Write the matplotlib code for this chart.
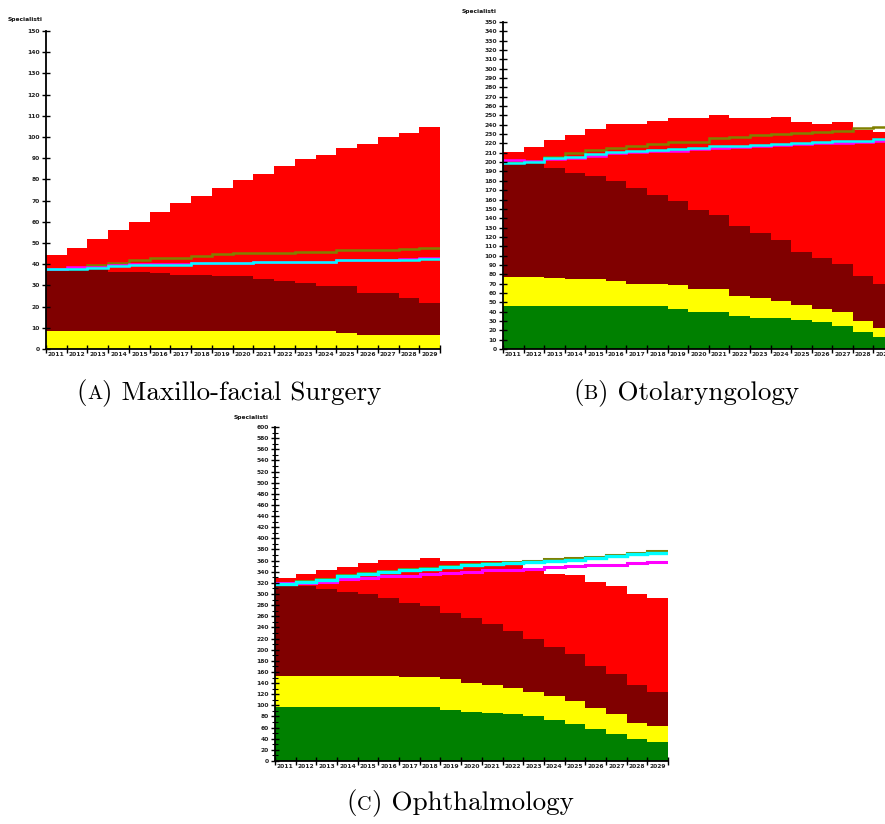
#!/usr/bin/env python3
"""Stacked step-area projections of specialists, three specialties."""

import numpy as np
import matplotlib
matplotlib.use("Agg")
import matplotlib.pyplot as plt
from matplotlib.offsetbox import TextArea, HPacker, AnnotationBbox

years = list(range(2011, 2030))

# Colours for the stacked layers and the reference lines
GREEN = "#008000"
YELLOW = "#ffff00"
MAROON = "#800000"
RED = "#ff0000"
OLIVE = "#808000"
MAGENTA = "#ff00ff"
CYAN = "#00ffff"

# --- (A) Maxillo-facial Surgery: top of each stacked layer ---
a_yellow_top = [8.3, 8.3, 8.3, 8.3, 8.3, 8.3, 8.3, 8.3, 8.3, 8.3, 8.3, 8.3, 8.3, 8.3,
                7.5, 6.8, 6.8, 6.8, 6.8]
a_maroon_top = [37.6, 37.6, 37.6, 36.5, 36.5, 35.7, 34.9, 34.9, 34.4, 34.4, 33.2, 32.2,
                31.0, 29.9, 29.9, 26.3, 26.3, 23.9, 21.9]
a_red_top = [44.2, 47.5, 52.0, 56.1, 60.1, 64.6, 68.7, 72.3, 75.8, 79.7, 82.4, 86.5,
             89.6, 91.5, 95.0, 96.9, 100.2, 102.0, 104.7]
a_olive = [37.8, 38.2, 39.6, 40.6, 41.8, 43.1, 43.1, 43.9, 44.7, 45.1, 45.1, 45.1,
           45.8, 45.8, 46.5, 46.5, 46.5, 47.2, 47.8]
a_magenta = [37.8, 38.6, 38.8, 39.5, 39.9, 39.9, 39.9, 40.6, 40.6, 40.6, 41.2, 41.2,
             41.2, 41.2, 41.9, 41.9, 42.2, 42.6, 42.8]
a_cyan = [37.6, 37.9, 38.4, 39.2, 39.6, 39.6, 39.6, 40.4, 40.4, 40.4, 41.0, 41.0,
          41.0, 41.0, 41.8, 41.8, 41.8, 41.8, 42.6]

# --- (B) Otolaryngology ---
b_green_top = [46.0, 46.0, 46.0, 46.0, 46.0, 46.0, 46.0, 46.0, 42.4, 39.9, 39.9, 35.3,
               33.5, 33.5, 31.0, 29.2, 24.9, 18.5, 12.5]
b_yellow_top = [77.3, 77.3, 75.5, 74.5, 74.5, 72.7, 69.8, 69.8, 68.1, 63.8, 63.8, 56.3,
                54.9, 51.7, 47.4, 42.4, 39.6, 30.3, 22.8]
b_maroon_top = [199.2, 199.2, 193.5, 188.9, 185.3, 179.6, 171.8, 164.3, 158.6, 149.3,
                143.3, 131.5, 123.7, 116.5, 104.1, 96.9, 90.9, 78.4, 69.5]
b_red_top = [211.0, 216.0, 223.4, 229.2, 235.2, 241.3, 241.3, 244.1, 247.3, 247.3,
             250.5, 247.7, 247.7, 248.8, 243.0, 241.3, 243.0, 234.1, 232.4]
b_olive = [200.0, 201.5, 205.6, 209.9, 213.5, 215.3, 217.7, 219.9, 222.0, 222.0, 225.6,
           227.0, 228.8, 229.9, 231.3, 232.0, 233.4, 236.3, 237.3]
b_magenta = [202.0, 201.5, 203.5, 204.2, 207.0, 209.5, 210.5, 212.0, 212.3, 213.8,
             215.5, 216.2, 217.3, 218.4, 219.1, 220.2, 220.9, 221.6, 223.0]
b_cyan = [199.2, 200.6, 204.9, 205.6, 208.5, 211.0, 212.0, 213.5, 213.8, 215.3, 217.0,
          217.7, 218.8, 219.9, 220.6, 221.7, 222.4, 223.1, 224.5]

# --- (C) Ophthalmology ---
c_green_top = [96.3, 96.3, 96.3, 96.3, 96.3, 96.3, 96.3, 96.3, 91.5, 88.5, 86.7, 83.7,
               81.3, 73.6, 66.4, 56.8, 48.4, 38.9, 33.5]
c_yellow_top = [153.1, 153.1, 153.1, 153.1, 153.1, 153.1, 151.3, 151.3, 146.5, 140.6,
                136.4, 131.6, 123.2, 116.6, 108.3, 95.7, 83.7, 68.8, 62.8]
c_maroon_top = [315.8, 314.0, 309.8, 304.4, 299.6, 293.7, 284.7, 278.7, 266.7, 256.0,
                246.4, 234.4, 218.3, 203.9, 191.4, 171.1, 156.1, 135.8, 123.8]
c_red_top = [329.0, 336.1, 343.9, 348.7, 355.9, 360.6, 360.6, 364.2, 358.9, 358.9,
             358.9, 352.9, 343.0, 336.7, 334.9, 321.8, 314.6, 299.6, 293.7]
c_olive = [319.5, 323.0, 327.5, 334.0, 337.5, 341.0, 344.5, 347.5, 350.5, 353.5, 355.5,
           358.0, 359.5, 362.0, 364.8, 366.6, 370.8, 373.8, 376.8]
c_magenta = [319.5, 320.5, 321.8, 326.6, 329.5, 331.9, 332.5, 335.5, 337.9, 339.7,
             342.7, 342.7, 345.7, 348.7, 350.5, 352.9, 352.9, 355.9, 357.7]
c_cyan = [318.8, 321.8, 326.0, 332.5, 335.5, 339.1, 342.7, 345.7, 348.7, 351.7, 353.5,
          355.9, 357.1, 358.9, 361.8, 364.8, 368.4, 371.4, 373.8]

TICK_FONT = dict(family="DejaVu Sans", size=4.3, weight="bold", color="#222222")
W, H = 885, 824


def px_axes(fig, left, top, right, bottom):
    """Add axes from pixel coordinates (origin top-left)."""
    return fig.add_axes([left / W, 1 - bottom / H, (right - left) / W, (bottom - top) / H])


def draw_panel(ax, layers, lines, ymax, major, minor=None):
    edges = np.arange(len(years) + 1)
    base = np.zeros(len(years))
    for top, color in layers:
        top = np.asarray(top)
        ax.stairs(top, edges, baseline=base, fill=True, color=color, lw=0)
        base = top
    for vals, color, lw in lines:
        ax.stairs(vals, edges, baseline=None, color=color, lw=lw)

    ax.set_xlim(0, len(years))
    ax.set_ylim(0, ymax)
    ax.set_xticks(edges, labels=[])
    ax.set_xticks(edges[:-1] + 0.5, labels=[str(y) for y in years], minor=True)
    ax.set_yticks(np.arange(0, ymax + 1, major))
    ax.set_yticklabels([str(v) for v in range(0, ymax + 1, major)], **TICK_FONT)
    if minor:
        ax.set_yticks(np.arange(0, ymax + 1, minor), minor=True)
    for lab in ax.get_xticklabels(minor=True):
        lab.set(**TICK_FONT)
    ax.tick_params(axis="both", which="major", direction="inout", length=5.5, width=1.0,
                   color="black", pad=1.5)
    ax.tick_params(axis="y", which="minor", direction="inout", length=4, width=0.8)
    ax.tick_params(axis="x", which="minor", length=0, pad=2.5)
    for side in ("top", "right"):
        ax.spines[side].set_visible(False)
    for side in ("left", "bottom"):
        ax.spines[side].set_linewidth(1.3)
    ax.set_facecolor("white")


def caption(fig, cx, cy, letter, title):
    parts = [TextArea("(", textprops=dict(family="cmr10", size=19.5)),
             TextArea(letter, textprops=dict(family="cmr10", size=14.5)),
             TextArea(") " + title, textprops=dict(family="cmr10", size=19.5))]
    box = HPacker(children=parts, align="baseline", pad=0, sep=0)
    ab = AnnotationBbox(box, (cx / W, 1 - cy / H), xycoords="figure fraction",
                        frameon=False, box_alignment=(0.5, 0.5))
    fig.add_artist(ab)


def main():
    fig = plt.figure(figsize=(W / 100, H / 100), dpi=100)

    line_lw = 1.8
    ax_a = px_axes(fig, 46, 31, 440, 349)
    draw_panel(ax_a,
               [(a_yellow_top, YELLOW), (a_maroon_top, MAROON), (a_red_top, RED)],
               [(a_olive, OLIVE, line_lw), (a_magenta, MAGENTA, line_lw), (a_cyan, CYAN, line_lw)],
               150, 10)

    ax_b = px_axes(fig, 503, 22, 894, 349)
    draw_panel(ax_b,
               [(b_green_top, GREEN), (b_yellow_top, YELLOW), (b_maroon_top, MAROON),
                (b_red_top, RED)],
               [(b_olive, OLIVE, line_lw), (b_magenta, MAGENTA, line_lw), (b_cyan, CYAN, line_lw)],
               350, 10)

    ax_c = px_axes(fig, 275, 427, 668, 761)
    draw_panel(ax_c,
               [(c_green_top, GREEN), (c_yellow_top, YELLOW), (c_maroon_top, MAROON),
                (c_red_top, RED)],
               [(c_olive, OLIVE, 2.2), (c_magenta, MAGENTA, 2.2), (c_cyan, CYAN, 2.4)],
               600, 20, 10)

    label_font = dict(family="DejaVu Sans", size=4.3, weight="bold", color="#111111")
    fig.text(8 / W, 1 - 20 / H, "Specialisti", ha="left", va="center", **label_font)
    fig.text(462 / W, 1 - 12 / H, "Specialisti", ha="left", va="center", **label_font)
    fig.text(234 / W, 1 - 418 / H, "Specialisti", ha="left", va="center", **label_font)

    caption(fig, 229, 393, "A", "Maxillo-facial Surgery")
    caption(fig, 686, 393, "B", "Otolaryngology")
    caption(fig, 460, 803, "C", "Ophthalmology")

    fig.savefig("out.png", dpi=100, facecolor="white")
    plt.close(fig)


if __name__ == "__main__":
    main()
